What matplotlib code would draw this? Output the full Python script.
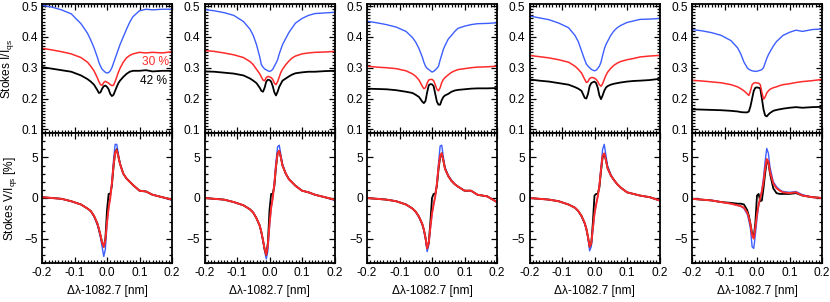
import matplotlib
matplotlib.use("Agg")
import matplotlib.pyplot as plt
from matplotlib.ticker import MultipleLocator

plt.rcParams['font.family'] = ['Liberation Sans', 'DejaVu Sans']
plt.rcParams['mathtext.fontset'] = 'custom'
plt.rcParams['mathtext.rm'] = 'Liberation Sans'
plt.rcParams['mathtext.it'] = 'Liberation Sans'

# wavelength offset grid (nm), shared by all profiles
dlam = [-0.20, -0.17, -0.14, -0.11, -0.08, -0.06, -0.05, -0.04, -0.03, -0.025,
        -0.02, -0.015, -0.01, -0.005, 0.0, 0.005, 0.01, 0.015, 0.02, 0.025,
        0.03, 0.035, 0.04, 0.05, 0.06, 0.07, 0.08, 0.10, 0.12, 0.14, 0.17, 0.20]

# Stokes I / I_qs, one list per panel
I_blue = [
    [0.503, 0.497, 0.488, 0.475, 0.443, 0.412, 0.39, 0.365, 0.335, 0.318, 0.305, 0.295, 0.29, 0.285, 0.283, 0.284,
     0.29, 0.30, 0.315, 0.33, 0.345, 0.36, 0.375, 0.40, 0.425, 0.448, 0.466, 0.485, 0.49, 0.488, 0.49, 0.49],
    [0.489, 0.485, 0.479, 0.47, 0.45, 0.425, 0.405, 0.375, 0.335, 0.31, 0.302, 0.296, 0.293, 0.29, 0.288, 0.29,
     0.295, 0.305, 0.315, 0.326, 0.345, 0.36, 0.375, 0.395, 0.415, 0.43, 0.445, 0.46, 0.47, 0.476, 0.478, 0.48],
    [0.451, 0.446, 0.44, 0.432, 0.418, 0.398, 0.383, 0.362, 0.335, 0.318, 0.305, 0.298, 0.294, 0.29, 0.286, 0.288,
     0.293, 0.298, 0.305, 0.325, 0.342, 0.36, 0.372, 0.393, 0.405, 0.418, 0.428, 0.435, 0.44, 0.443, 0.444, 0.446],
    [0.468, 0.462, 0.456, 0.445, 0.43, 0.405, 0.385, 0.355, 0.325, 0.312, 0.305, 0.30, 0.295, 0.292, 0.29, 0.292,
     0.298, 0.305, 0.318, 0.34, 0.36, 0.375, 0.385, 0.405, 0.42, 0.43, 0.437, 0.447, 0.452, 0.457, 0.458, 0.46],
    [0.424, 0.42, 0.414, 0.405, 0.388, 0.365, 0.345, 0.318, 0.30, 0.295, 0.292, 0.29, 0.289, 0.288, 0.289, 0.29,
     0.292, 0.294, 0.30, 0.315, 0.33, 0.342, 0.352, 0.37, 0.385, 0.395, 0.405, 0.415, 0.422, 0.418, 0.424, 0.426],
]
I_red = [
    [0.363, 0.358, 0.352, 0.345, 0.333, 0.318, 0.305, 0.29, 0.268, 0.255, 0.245, 0.243, 0.252, 0.256, 0.253, 0.25,
     0.245, 0.242, 0.243, 0.255, 0.27, 0.285, 0.298, 0.318, 0.332, 0.34, 0.345, 0.35, 0.348, 0.35, 0.348, 0.352],
    [0.356, 0.353, 0.348, 0.342, 0.333, 0.32, 0.31, 0.295, 0.28, 0.27, 0.26, 0.258, 0.268, 0.272, 0.27, 0.268,
     0.262, 0.25, 0.245, 0.255, 0.27, 0.285, 0.295, 0.31, 0.322, 0.332, 0.338, 0.345, 0.348, 0.35, 0.351, 0.353],
    [0.305, 0.302, 0.30, 0.297, 0.29, 0.28, 0.272, 0.26, 0.24, 0.232, 0.235, 0.25, 0.26, 0.262, 0.262, 0.258,
     0.245, 0.23, 0.225, 0.235, 0.252, 0.262, 0.268, 0.277, 0.285, 0.29, 0.294, 0.297, 0.30, 0.302, 0.303, 0.305],
    [0.34, 0.336, 0.332, 0.326, 0.318, 0.305, 0.295, 0.283, 0.262, 0.252, 0.255, 0.265, 0.268, 0.268, 0.266, 0.262,
     0.255, 0.245, 0.24, 0.248, 0.262, 0.275, 0.285, 0.298, 0.308, 0.315, 0.32, 0.326, 0.33, 0.335, 0.338, 0.34],
    [0.259, 0.257, 0.254, 0.251, 0.245, 0.238, 0.232, 0.225, 0.215, 0.21, 0.225, 0.245, 0.25, 0.252, 0.25, 0.25,
     0.245, 0.22, 0.198, 0.205, 0.218, 0.225, 0.23, 0.235, 0.238, 0.242, 0.245, 0.248, 0.252, 0.255, 0.258, 0.262],
]
I_black = [
    [0.302, 0.297, 0.292, 0.287, 0.275, 0.263, 0.255, 0.245, 0.228, 0.218, 0.22, 0.232, 0.24, 0.242, 0.238, 0.23,
     0.215, 0.208, 0.212, 0.225, 0.238, 0.25, 0.258, 0.27, 0.28, 0.287, 0.29, 0.29, 0.292, 0.288, 0.29, 0.29],
    [0.288, 0.287, 0.284, 0.281, 0.275, 0.265, 0.258, 0.25, 0.235, 0.225, 0.222, 0.235, 0.255, 0.261, 0.26, 0.255,
     0.24, 0.22, 0.21, 0.222, 0.238, 0.248, 0.258, 0.265, 0.272, 0.278, 0.282, 0.285, 0.287, 0.287, 0.289, 0.29],
    [0.232, 0.231, 0.23, 0.227, 0.222, 0.218, 0.212, 0.205, 0.19, 0.185, 0.192, 0.22, 0.243, 0.247, 0.246, 0.24,
     0.215, 0.19, 0.18, 0.18, 0.195, 0.205, 0.21, 0.215, 0.222, 0.226, 0.228, 0.23, 0.232, 0.233, 0.233, 0.234],
    [0.262, 0.258, 0.255, 0.25, 0.245, 0.237, 0.232, 0.225, 0.202, 0.20, 0.215, 0.24, 0.25, 0.253, 0.255, 0.25,
     0.235, 0.21, 0.198, 0.21, 0.225, 0.235, 0.24, 0.245, 0.248, 0.25, 0.252, 0.255, 0.257, 0.258, 0.26, 0.264],
    [0.165, 0.164, 0.163, 0.162, 0.16, 0.158, 0.156, 0.155, 0.155, 0.158, 0.175, 0.20, 0.225, 0.235, 0.236, 0.235,
     0.233, 0.20, 0.165, 0.145, 0.142, 0.148, 0.153, 0.16, 0.163, 0.165, 0.167, 0.17, 0.172, 0.17, 0.172, 0.173],
]

# Stokes V / I_qs in %, one list per panel
V_blue = [
    [0.1, 0.0, -0.1, -0.4, -0.8, -1.3, -1.6, -2.3, -3.3, -4.0, -4.9, -6.0, -7.2, -6.3, -3.2, -1.2,
     0.0, 2.0, 4.6, 6.6, 6.6, 5.4, 4.3, 3.0, 2.4, 2.0, 1.6, 0.9, 0.8, 0.4, 0.1, -0.3],
    [0.0, -0.1, -0.2, -0.5, -0.9, -1.4, -1.8, -2.5, -3.5, -4.3, -5.3, -6.5, -7.5, -6.5, -3.5, -1.3,
     0.0, 2.0, 4.5, 6.3, 6.5, 5.3, 4.2, 3.0, 2.3, 1.9, 1.5, 0.9, 0.7, 0.4, 0.1, -0.3],
    [0.0, -0.1, -0.2, -0.4, -0.8, -1.3, -1.7, -2.4, -3.3, -4.0, -5.0, -6.6, -5.8, -3.8, -2.0, -0.8,
     0.2, 1.8, 4.2, 6.4, 6.5, 5.0, 3.8, 2.8, 2.2, 1.7, 1.4, 0.9, 0.9, 0.4, 0.2, -0.5],
    [0.0, -0.1, -0.2, -0.4, -0.8, -1.2, -1.6, -2.3, -3.2, -3.9, -4.9, -6.5, -6.0, -4.0, -2.0, -0.8,
     0.2, 1.6, 3.8, 6.0, 6.6, 5.3, 4.0, 2.9, 2.2, 1.7, 1.3, 0.7, 0.5, 0.3, 0.1, -0.3],
    [-0.1, -0.2, -0.3, -0.5, -0.7, -0.9, -1.0, -1.3, -2.0, -2.8, -3.8, -6.0, -6.2, -4.5, -2.5, -1.0,
     0.0, 1.0, 2.5, 4.5, 6.1, 5.5, 3.8, 2.0, 1.4, 1.0, 0.8, 0.7, 0.8, 0.4, 0.1, 0.0],
]
V_red = [
    [0.1, 0.0, -0.1, -0.4, -0.8, -1.3, -1.6, -2.2, -3.1, -3.8, -4.6, -5.5, -6.0, -5.2, -3.0, -1.2,
     0.0, 1.8, 4.0, 5.6, 5.9, 5.1, 4.2, 3.0, 2.4, 2.0, 1.6, 0.9, 0.8, 0.4, 0.1, -0.2],
    [0.0, -0.1, -0.2, -0.5, -0.9, -1.4, -1.8, -2.5, -3.4, -4.2, -5.2, -6.3, -7.0, -5.8, -3.2, -1.2,
     0.0, 1.8, 4.0, 5.5, 5.8, 5.0, 4.0, 3.0, 2.3, 1.9, 1.5, 0.9, 0.7, 0.4, 0.1, -0.2],
    [0.0, -0.1, -0.2, -0.4, -0.8, -1.3, -1.7, -2.3, -3.2, -3.9, -4.9, -6.2, -5.5, -3.6, -1.9, -0.8,
     0.2, 1.7, 3.8, 5.2, 5.5, 4.6, 3.6, 2.7, 2.1, 1.7, 1.4, 0.9, 0.9, 0.4, 0.2, -0.5],
    [0.0, -0.1, -0.2, -0.4, -0.8, -1.2, -1.6, -2.2, -3.1, -3.8, -4.8, -6.0, -5.6, -3.7, -1.9, -0.8,
     0.2, 1.5, 3.5, 5.2, 5.5, 4.7, 3.7, 2.8, 2.2, 1.7, 1.3, 0.7, 0.5, 0.3, 0.1, -0.3],
    [-0.1, -0.2, -0.3, -0.5, -0.7, -0.9, -1.0, -1.2, -1.8, -2.4, -3.3, -4.6, -5.0, -3.6, -2.0, -0.8,
     0.0, 0.8, 2.0, 3.6, 4.8, 4.5, 3.2, 1.8, 1.2, 0.9, 0.7, 0.6, 0.7, 0.3, 0.1, 0.0],
]
V_black = [
    [0.1, 0.0, -0.1, -0.4, -0.8, -1.3, -1.6, -2.2, -3.1, -3.8, -4.6, -5.5, -6.0, -5.0, -1.5, 0.5,
     0.5, 1.5, 3.8, 5.6, 6.0, 5.1, 4.2, 3.0, 2.4, 2.0, 1.6, 0.9, 0.8, 0.4, 0.1, -0.2],
    [0.0, -0.1, -0.2, -0.5, -0.9, -1.4, -1.8, -2.5, -3.4, -4.2, -5.2, -6.3, -7.0, -5.5, -1.5, 0.5,
     0.5, 1.5, 3.8, 5.5, 5.8, 5.0, 4.0, 3.0, 2.3, 1.9, 1.5, 0.9, 0.7, 0.4, 0.1, -0.2],
    [0.0, -0.1, -0.2, -0.4, -0.8, -1.3, -1.7, -2.3, -3.2, -3.9, -4.9, -6.2, -5.5, -3.0, 0.0, 0.5,
     0.5, 1.5, 3.5, 5.0, 5.5, 4.6, 3.6, 2.7, 2.1, 1.7, 1.4, 0.9, 0.9, 0.4, 0.2, -0.5],
    [0.0, -0.1, -0.2, -0.4, -0.8, -1.2, -1.6, -2.2, -3.1, -3.8, -4.8, -6.0, -5.6, -3.0, 0.3, 0.5,
     0.5, 1.3, 3.3, 5.0, 5.4, 4.7, 3.7, 2.8, 2.2, 1.7, 1.3, 0.7, 0.5, 0.3, 0.1, -0.3],
    [-0.1, -0.2, -0.3, -0.5, -0.6, -0.7, -0.7, -0.8, -1.5, -2.2, -3.2, -4.4, -4.8, -3.0, 0.3, 0.5,
     -0.4, -0.3, 1.2, 3.0, 4.5, 4.4, 3.0, 1.2, 0.6, 0.5, 0.5, 0.5, 0.6, 0.3, 0.1, 0.0],
]

xticks = [-0.2, -0.1, 0.0, 0.1, 0.2]
xticklabels = ['-0.2', '-0.1', '0.0', '0.1', '0.2']
label_30 = '30 %'
label_42 = '42 %'

BLUE = '#3d5eff'
RED = '#ff2a2a'
FS = 8.6


def style(ax):
    ax.tick_params(which='both', direction='in', top=True, right=True,
                   labelsize=FS, width=0.9, pad=3)
    ax.tick_params(which='major', length=4.5)
    ax.tick_params(which='minor', length=2)
    for s in ax.spines.values():
        s.set_linewidth(1.3)
    ax.set_xlim(-0.2, 0.2)
    ax.xaxis.set_major_locator(MultipleLocator(0.1))
    ax.xaxis.set_minor_locator(MultipleLocator(0.01))


fig = plt.figure(figsize=(8.3, 3.02), dpi=100)
lefts = [42, 204.5, 367, 529.5, 692]
W = 830.0
H = 302.0
for k in range(5):
    l = lefts[k] / W
    w = 130 / W
    ax1 = fig.add_axes([l, 1 - 133 / H, w, 129 / H])
    ax2 = fig.add_axes([l, 1 - 263 / H, w, 130 / H])

    ax1.plot(dlam, I_blue[k], color=BLUE, lw=1.0)
    ax1.plot(dlam, I_black[k], color='black', lw=1.3)
    ax1.plot(dlam, I_red[k], color=RED, lw=1.1)
    ax1.set_ylim(0.088, 0.507)
    style(ax1)
    ax1.yaxis.set_major_locator(MultipleLocator(0.1))
    ax1.yaxis.set_minor_locator(MultipleLocator(0.01))
    ax1.set_xticklabels([])

    ax2.plot(dlam, V_blue[k], color=BLUE, lw=1.0)
    ax2.plot(dlam, V_black[k], color='black', lw=1.3)
    ax2.plot(dlam, V_red[k], color=RED, lw=1.4)
    ax2.set_ylim(-8, 8)
    style(ax2)
    ax2.yaxis.set_major_locator(MultipleLocator(5))
    ax2.yaxis.set_minor_locator(MultipleLocator(1))
    ax2.set_xticks(xticks)
    ax2.set_xticklabels(xticklabels)
    ax2.set_xlabel('Δλ-1082.7 [nm]', fontsize=FS, labelpad=4)

    if k == 0:
        ax1.set_ylabel('Stokes I/I$_{\\rm qs}$', fontsize=FS, labelpad=4)
        ax2.set_ylabel('Stokes V/I$_{\\rm qs}$ [%]', fontsize=FS, labelpad=4)
        ax1.text(0.107, 0.319, label_30, color=RED, fontsize=FS, va='center')
        ax1.text(0.102, 0.258, label_42, color='black', fontsize=FS, va='center')

fig.savefig('out.png', dpi=100)
